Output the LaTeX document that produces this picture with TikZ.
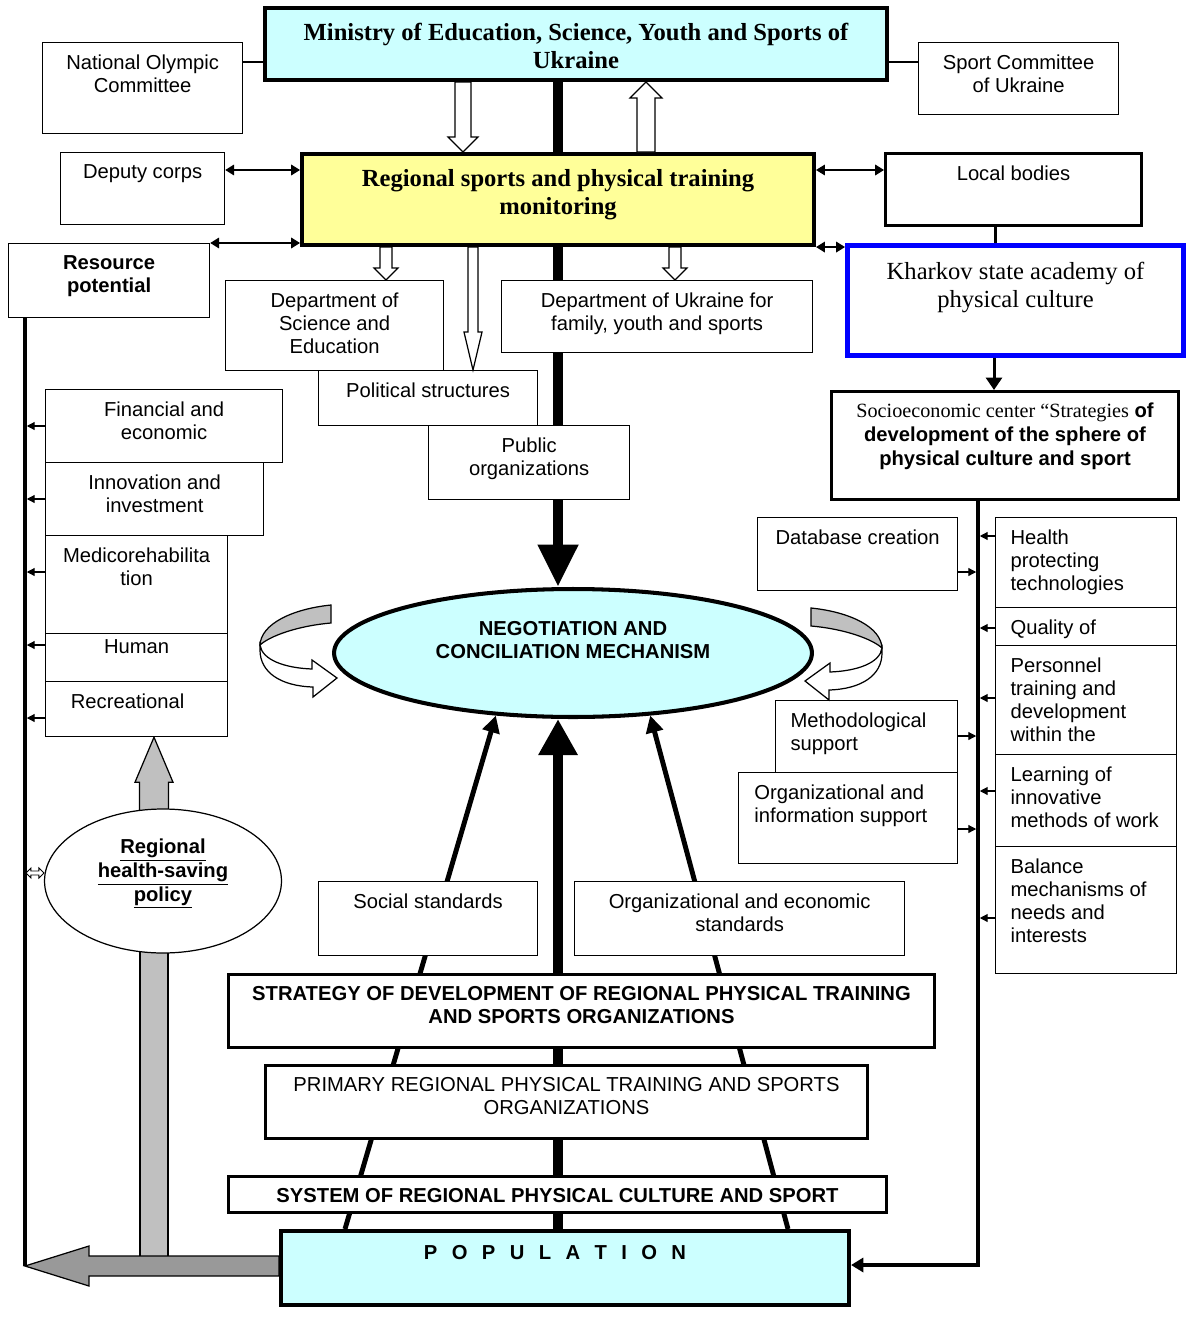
\documentclass[tikz,border=0pt]{standalone}
\usepackage{fontspec}
\setmainfont{Liberation Sans}
\newfontfamily\timesfont{Liberation Serif}
\usepackage{tikz}
\usetikzlibrary{arrows.meta}
\usetikzlibrary{calc}
\usetikzlibrary{shapes.geometric}
\usetikzlibrary{backgrounds}

\definecolor{cyanfill}{HTML}{CCFFFF}
\definecolor{yellowfill}{HTML}{FFFF99}
\definecolor{academyblue}{HTML}{0000FF}
\definecolor{greyshaft}{HTML}{C0C0C0}
\definecolor{greyarrow}{HTML}{999999}

% box from corner (x1,y1) to (x2,y2), text hung from the top
\newcommand{\boxat}[8]{%
  \node[#6, anchor=north west, inner sep=0pt] (#1) at (#2,#3)
    {\begin{minipage}[t][\dimexpr 0.02cm*(#5-#3)\relax][t]{\dimexpr 0.02cm*(#4-#2)\relax}%
     \vspace*{#7}#8\end{minipage}};}
% block arrow: from, to, half shaft, half head, head length
\newcommand{\fatarrow}[6][fill=white]{%
  \coordinate (fa-b) at ($(#3)!#6!(#2)$);
  \draw[line width=0.7pt, #1] ($(#2)!#4!90:(#3)$) -- ($(fa-b)!#4!-90:(#2)$)
    -- ($(fa-b)!#5!-90:(#2)$) -- (#3) -- ($(fa-b)!#5!90:(#2)$)
    -- ($(fa-b)!#4!90:(#2)$) -- ($(#2)!#4!-90:(#3)$) -- cycle;}
\newcommand{\ribbon}{%
  \draw[line width=0.7pt, fill=greyshaft] (331,605) .. controls (292,609) and (261,624) .. (260,645)
    .. controls (270,636) and (297,626) .. (331,623) -- cycle;
  \draw[line width=0.7pt, fill=white] (260,645) .. controls (262,660) and (285,668) .. (312,669)
    -- (312,660) -- (337,678) -- (313,697) -- (313,687) .. controls (280,686) and (260,672) .. (260,650) -- cycle;}
\newcommand{\lft}{\raggedright\leftskip=8.5pt\relax}
\newcommand{\lsp}{\hspace{8.2pt}}

\begin{document}
\fontsize{11.5}{13}\selectfont
\begin{tikzpicture}[x=0.02cm,y=-0.02cm,
  plainbox/.style={draw,line width=0.7pt,fill=white},
  boldbox/.style={draw,line width=1.7pt,fill=white},
  heavybox/.style={draw,line width=2.3pt},
  smalltip/.style={-{Triangle[length=4.5pt,width=4.5pt]},line width=0.7pt,shorten >=1pt},
  bothtips/.style={{Triangle[length=5pt,width=6pt]}-{Triangle[length=5pt,width=6pt]},line width=0.8pt},
  busline/.style={line width=2pt},
  trunk/.style={line width=6.2pt},
  slant/.style={line width=2.8pt,-{Triangle[length=0.34cm,width=0.34cm]}}]
\useasboundingbox (0,0) rectangle (1200,1318);

% top level
\boxat{min}{263}{6}{885}{78}{heavybox,fill=cyanfill,font=\timesfont\bfseries\fontsize{14}{16}\selectfont}{8.5pt}
  {\centering Ministry of Education, Science, Youth and Sports of\\Ukraine}
\boxat{noc}{42}{42}{242}{133}{plainbox}{7pt}{\centering National Olympic\\Committee}
\boxat{spc}{918}{42}{1118}{114}{plainbox}{7pt}{\centering Sport Committee\\of Ukraine}
\boxat{dep}{60}{152}{224}{224}{plainbox}{7pt}{\centering Deputy corps}
\boxat{reg}{300}{152}{812}{243}{heavybox,fill=yellowfill,font=\timesfont\bfseries\fontsize{14}{16}\selectfont}{8.5pt}
  {\centering Regional sports and physical training\\monitoring}
\boxat{loc}{884}{152}{1140}{224}{boldbox}{7pt}{\centering Local bodies}
\boxat{res}{8}{243}{209}{317}{plainbox,font=\bfseries}{7pt}{\centering Resource\\potential}
\boxat{kha}{845}{243}{1181}{353}{draw=academyblue,line width=2.8pt,fill=white,font=\timesfont\fontsize{14}{16}\selectfont}{9.5pt}
  {\centering Kharkov state academy of\\physical culture}
\boxat{dsc}{225}{280}{443}{370}{plainbox}{7pt}{\centering Department of\\Science and\\Education}
\boxat{duk}{501}{280}{812}{352}{plainbox}{7pt}{\centering Department of Ukraine for\\family, youth and sports}
\boxat{pol}{318}{370}{537}{425}{plainbox}{7pt}{\centering Political structures}
\boxat{pub}{428}{425}{629}{499}{plainbox}{7pt}{\centering Public\\organizations}
\boxat{soc}{830}{390}{1177}{498}{boldbox,font=\bfseries\fontsize{11.5}{13.6}\selectfont}{6.7pt}
  {\centering{\timesfont\mdseries Socioeconomic center “Strategies} of\\development of the sphere of\\physical culture and sport}

% resources on the left
\boxat{fin}{45}{389}{282}{462}{plainbox}{7pt}{\centering Financial and\\economic}
\boxat{inn}{45}{462}{263}{535}{plainbox}{7pt}{\centering Innovation and\\investment}
\boxat{med}{45}{535}{227}{633}{plainbox}{7pt}{\centering Medicorehabilita\\tion}
\boxat{hum}{45}{633}{227}{681}{plainbox}{3.5pt}{\centering Human}
\boxat{rec}{45}{681}{227}{736}{plainbox}{7pt}{\centering Recreational\hspace*{0.36cm}}

% tasks of the centre
\boxat{dbc}{757}{517}{957}{590}{plainbox}{7pt}{\centering Database creation}
\boxat{met}{775}{700}{957}{772}{plainbox}{7pt}{\lft Methodological\\support}
\boxat{ori}{738}{772}{957}{863}{plainbox}{7pt}{\lft\leftskip=9pt Organizational and\\information support}
\boxat{hea}{995}{517}{1176}{607}{plainbox}{7pt}{\lft Health\\protecting\\technologies}
\boxat{qua}{995}{607}{1176}{645}{plainbox}{7pt}{\lft Quality of}
\boxat{per}{995}{645}{1176}{754}{plainbox}{7pt}{\lft Personnel\\training and\\development\\within the}
\boxat{lea}{995}{754}{1176}{846}{plainbox}{7pt}{\lft Learning of\\innovative\\methods of work}
\boxat{bal}{995}{846}{1176}{973}{plainbox}{7pt}{\lft Balance\\mechanisms of\\needs and\\interests}

% bottom levels
\boxat{sst}{318}{881}{537}{955}{plainbox}{7pt}{\centering Social standards}
\boxat{oes}{574}{881}{904}{955}{plainbox}{7pt}{\centering Organizational and economic\\standards}
\boxat{str}{227}{973}{933}{1046}{boldbox,font=\bfseries}{7pt}
  {\centering STRATEGY OF DEVELOPMENT OF REGIONAL PHYSICAL TRAINING\\AND SPORTS ORGANIZATIONS}
\boxat{pri}{264}{1064}{866}{1137}{boldbox}{7pt}
  {\centering PRIMARY REGIONAL PHYSICAL TRAINING AND SPORTS\\ORGANIZATIONS}
\boxat{sys}{227}{1175}{885}{1211}{boldbox,font=\bfseries}{7pt}{\centering SYSTEM OF REGIONAL PHYSICAL CULTURE AND SPORT}
\boxat{pop}{279}{1229}{847}{1303}{heavybox,fill=cyanfill,font=\bfseries}{8pt}
  {\centering P\lsp O\lsp P\lsp U\lsp L\lsp A\lsp T\lsp I\lsp O\lsp N\hspace*{0.4cm}}

\node[ellipse,draw,line width=2.3pt,fill=cyanfill,minimum width=9.56cm,minimum height=2.56cm,
  font=\bfseries,text height=14pt,text depth=19.6pt] (neg) at (573,653)
  {\begin{tabular}{@{}c@{}}NEGOTIATION AND\\CONCILIATION MECHANISM\end{tabular}};
\node[ellipse,draw,line width=0.7pt,fill=white,minimum width=4.74cm,minimum height=2.88cm,
  font=\bfseries,text height=20pt,text depth=23pt] (hsp) at (163,881)
  {\begin{tabular}{@{}c@{}}\underline{Regional}\\\underline{health-saving}\\\underline{policy}\end{tabular}};

\coordinate (lbus) at (25,1266);
\coordinate (rbus) at (978,1265);

\begin{scope}[on background layer]
  \draw[trunk] (min.south -| reg.north) -- (reg.north);
  \draw[trunk,-{Triangle[length=0.85cm,width=0.76cm]}] (reg.south) -- (reg.south |- neg.north);
  \draw[trunk,-{Triangle[length=0.72cm,width=0.74cm]}] (pop.north -| reg.south) -- (reg.south |- neg.south);
  \draw[slant] (pop.north -| 345,0) -- (neg.219);
  \draw[slant] (pop.north -| 788,0) -- (neg.321);
  \draw[fill=greyshaft,line width=0.7pt] (hsp.center -| 140,0) rectangle (168,1258);
  \fatarrow[fill=greyshaft]{hsp.center -| 154,0}{rec.south -| 154,0}{0.29cm}{0.38cm}{0.9cm}
  \fatarrow[fill=greyarrow]{pop.west |- lbus}{lbus}{0.2cm}{0.4cm}{1.28cm}
\end{scope}

% links at the top
\draw[line width=0.7pt] (noc.east |- 0,62) -- (min.west |- 0,62);
\draw[line width=0.7pt] (min.east |- 0,62) -- (spc.west |- 0,62);
\fatarrow{min.south -| 463,0}{reg.north -| 463,0}{0.16cm}{0.3cm}{0.3cm}
\fatarrow{reg.north -| 646,0}{min.south -| 646,0}{0.18cm}{0.32cm}{0.32cm}
\fatarrow{reg.south -| 386,0}{dsc.north -| 386,0}{0.12cm}{0.24cm}{0.24cm}
\fatarrow{reg.south -| 473,0}{pol.north -| 473,0}{0.1cm}{0.18cm}{0.76cm}
\fatarrow{reg.south -| 675,0}{duk.north -| 675,0}{0.12cm}{0.24cm}{0.24cm}
\draw[bothtips] (dep.east |- 0,170) -- (reg.west |- 0,170);
\draw[bothtips] (reg.east |- 0,170) -- (loc.west |- 0,170);
\draw[bothtips] (res.north east) -- (res.north east -| reg.south west);
\draw[bothtips] (reg.south east) -- (reg.south east -| kha.north west);
\draw[line width=1.7pt] (loc.south -| 995,0) -- (kha.north -| 995,0);
\draw[line width=1.7pt,-{Triangle[length=7pt,width=9pt]}] (kha.south -| 994,0) -- (soc.north -| 994,0);

% buses
\draw[busline] (res.south -| lbus) -- (lbus);
\draw[busline,-{Triangle[length=7pt,width=8pt]}] (soc.south -| rbus) -- (rbus) -- (pop.east |- rbus);
\foreach \n/\y in {fin/426,inn/499,med/572,hum/645,rec/718}
  \draw[smalltip] (\n.west |- 0,\y) -- (lbus |- 0,\y);
\foreach \n/\y in {hea/536,qua/628,per/698,lea/791,bal/918}
  \draw[smalltip] (\n.west |- 0,\y) -- (rbus |- 0,\y);
\foreach \n/\y in {dbc/572,met/736,ori/829}
  \draw[smalltip] (\n.east |- 0,\y) -- (rbus |- 0,\y);
\draw[line width=0.5pt,fill=white,shift={(hsp.west)}] (-18,-8) -- (-13,-13) -- (-13,-10) -- (-5,-10)
  -- (-5,-13) -- (0,-8) -- (-5,-3) -- (-5,-6) -- (-13,-6) -- (-13,-3) -- cycle;

% circulation round the mechanism
\ribbon
\begin{scope}[shift={(1142,3)},xscale=-1]
  \ribbon
\end{scope}
\end{tikzpicture}
\end{document}
